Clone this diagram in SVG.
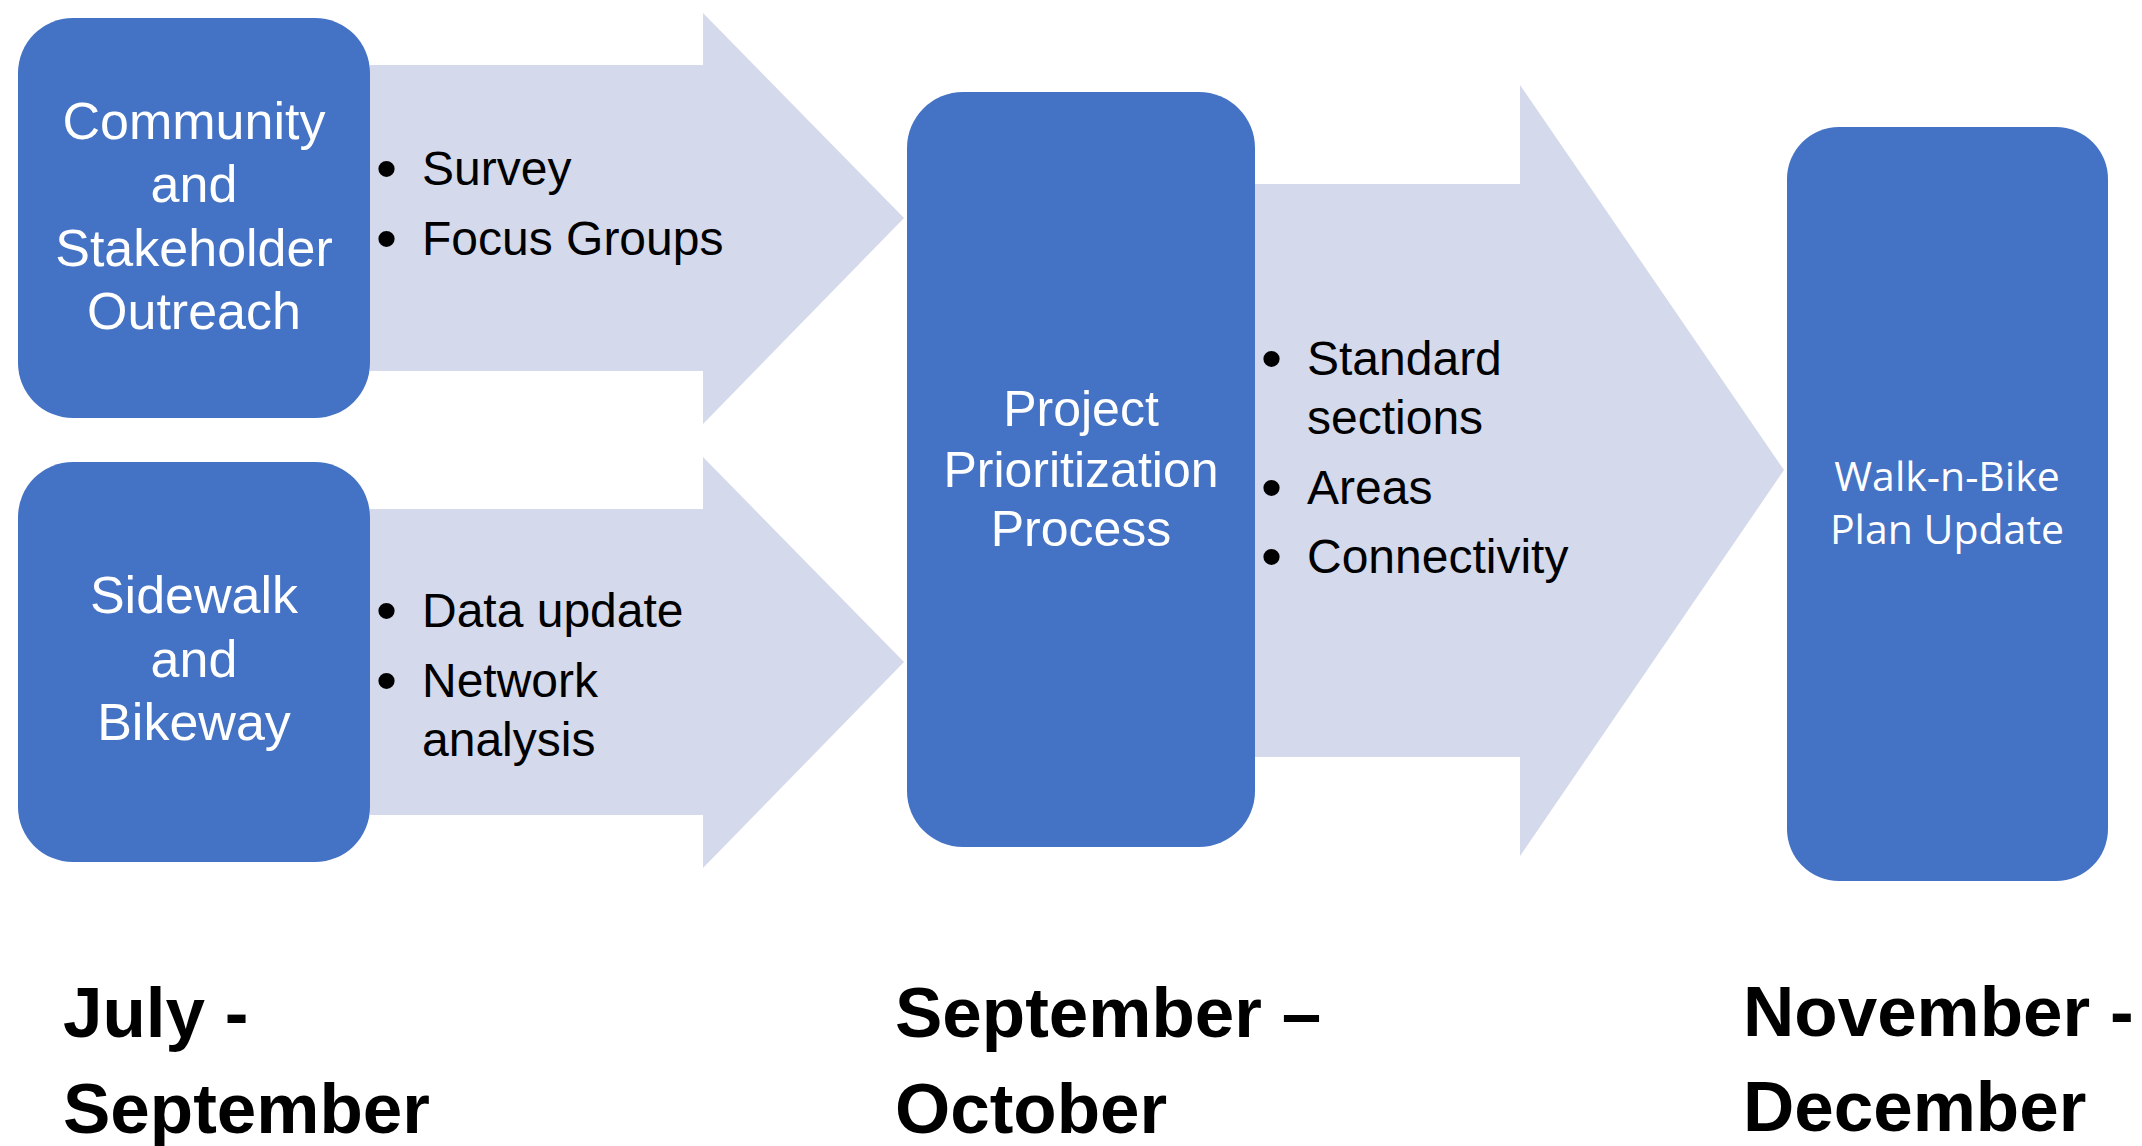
<svg xmlns="http://www.w3.org/2000/svg" width="2142" height="1146" viewBox="0 0 2142 1146">
<style>
.box{fill:#4472C4;}
.arrow{fill:#D4D9EB;}
.bt{font-family:"Liberation Sans",Arial,sans-serif;font-size:52px;fill:#FFFFFF;text-anchor:middle;}
.bt3{font-family:"Liberation Sans",Arial,sans-serif;font-size:50px;fill:#FFFFFF;text-anchor:middle;}
.bt4{font-family:"Open Sans",sans-serif;font-size:41px;fill:#FFFFFF;text-anchor:middle;}
.bl{font-family:"Liberation Sans",Arial,sans-serif;font-size:48px;fill:#000000;}
.dot{font-family:"Liberation Sans",Arial,sans-serif;font-size:60px;fill:#000000;}
.lab{font-family:"Liberation Sans",Arial,sans-serif;font-size:71px;font-weight:bold;fill:#000000;}
</style>
<rect width="2142" height="1146" fill="#FFFFFF"/>
<g id="connectors">
  <polygon class="arrow" points="370,65 703,65 703,13 904,218 703,424 703,371 370,371"/>
  <polygon class="arrow" points="370,509 703,509 703,457 904,662 703,868 703,815 370,815"/>
  <polygon class="arrow" points="1255,184 1520,184 1520,85 1784,470 1520,856 1520,757 1255,757"/>
</g>
<g id="arrow1-labels">
  <text class="dot" x="376" y="189">•</text><text class="bl" x="422" y="185">Survey</text>
  <text class="dot" x="376" y="259">•</text><text class="bl" x="422" y="255">Focus Groups</text>
</g>
<g id="arrow2-labels">
  <text class="dot" x="376" y="631">•</text><text class="bl" x="422" y="627">Data update</text>
  <text class="dot" x="376" y="701">•</text><text class="bl" x="422" y="697">Network</text>
  <text class="bl" x="422" y="756">analysis</text>
</g>
<g id="arrow3-labels">
  <text class="dot" x="1261" y="379">•</text><text class="bl" x="1307" y="375">Standard</text>
  <text class="bl" x="1307" y="434">sections</text>
  <text class="dot" x="1261" y="508">•</text><text class="bl" x="1307" y="504">Areas</text>
  <text class="dot" x="1261" y="577">•</text><text class="bl" x="1307" y="573">Connectivity</text>
</g>
<g id="node-outreach">
  <rect class="box" x="18" y="18" width="352" height="400" rx="55" ry="55"/>
  <text class="bt" x="194" y="139">Community</text>
  <text class="bt" x="194" y="202">and</text>
  <text class="bt" x="194" y="266">Stakeholder</text>
  <text class="bt" x="194" y="329">Outreach</text>
</g>
<g id="node-sidewalk">
  <rect class="box" x="18" y="462" width="352" height="400" rx="55" ry="55"/>
  <text class="bt" x="194" y="613">Sidewalk</text>
  <text class="bt" x="194" y="677">and</text>
  <text class="bt" x="194" y="740">Bikeway</text>
</g>
<g id="node-prioritization">
  <rect class="box" x="907" y="92" width="348" height="755" rx="56" ry="56"/>
  <text class="bt3" x="1081" y="426">Project</text>
  <text class="bt3" x="1081" y="487">Prioritization</text>
  <text class="bt3" x="1081" y="546">Process</text>
</g>
<g id="node-plan">
  <rect class="box" x="1787" y="127" width="321" height="754" rx="52" ry="52"/>
  <text class="bt4" x="1947" y="491">Walk-n-Bike</text>
  <text class="bt4" x="1947" y="544">Plan Update</text>
</g>
<g id="timeline-labels">
  <text class="lab" x="63" y="1037">July -</text>
  <text class="lab" x="63" y="1133">September</text>
  <text class="lab" x="895" y="1037">September –</text>
  <text class="lab" x="895" y="1133">October</text>
  <text class="lab" x="1743" y="1036">November -</text>
  <text class="lab" x="1743" y="1131">December</text>
</g>
</svg>
